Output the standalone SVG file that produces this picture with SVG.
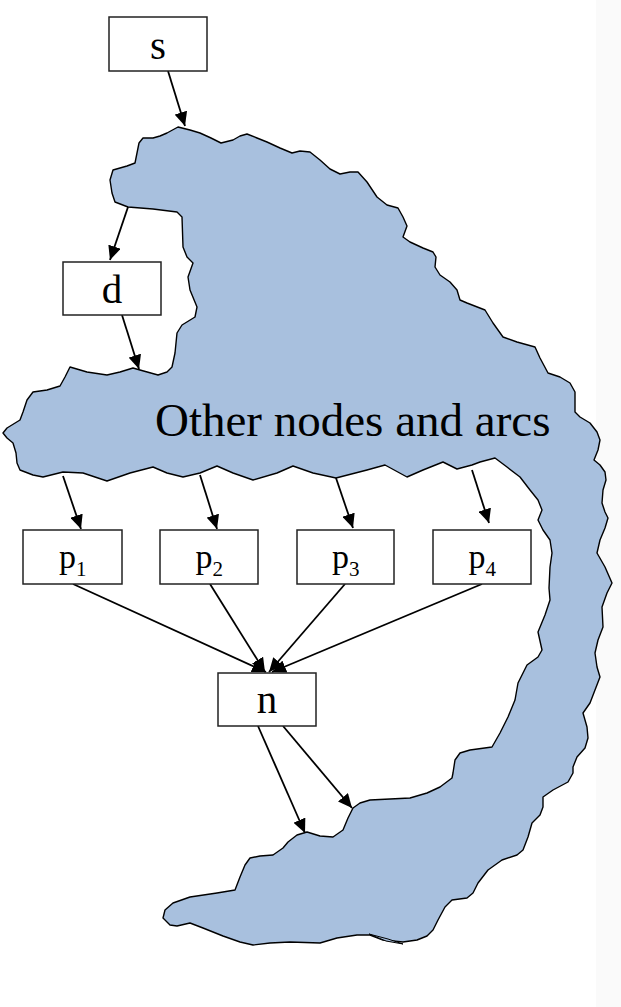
<svg xmlns="http://www.w3.org/2000/svg" width="621" height="1007" viewBox="0 0 621 1007">
<defs>
<marker id="ah" markerUnits="userSpaceOnUse" markerWidth="15" markerHeight="13" refX="14" refY="6.5" orient="auto">
<path d="M0,0 L14,6.5 L0,13 z" fill="#000"/>
</marker>
</defs>
<style>
.box{fill:#fff;stroke:#222;stroke-width:1.5}
.lbl{font-family:"Liberation Serif","Times New Roman",serif;fill:#000;text-anchor:middle}
.big{font-size:41px}
.pl{font-size:34px;text-anchor:start}
.sub{font-size:21px}
.arc{stroke:#000;stroke-width:1.8;fill:none;marker-end:url(#ah)}
.blob{fill:#a8c0de;stroke:#000;stroke-width:1.4;stroke-linejoin:round}
</style>
<rect x="0" y="0" width="621" height="1007" fill="#fff"/>
<rect x="596" y="0" width="25" height="1007" fill="#fafafa"/>
<g id="blob">
<path class="blob" d="M143,138 L153,138 L160,136 L167,133 L178,127 L190,130 L200,133 L211,138 L221,143 L233,140 L240,136 L247,134 L257,138 L267,142 L280,148 L292,153 L300,151 L310,152 L320,160 L330,169 L340,174 L350,172 L358,172 L367,182 L377,197 L387,205 L398,208 L403,217 L407,226 L403,237 L410,242 L423,248 L433,252 L436,257 L435,267 L440,275 L450,282 L457,290 L460,300 L467,303 L485,310 L493,323 L503,337 L517,342 L535,347 L540,358 L548,373 L560,377 L570,383 L575,392 L575,412 L580,417 L590,423 L597,432 L600,440 L598,450 L594,460 L600,465 L605,472 L606,480 L603,490 L602,503 L605,512 L608,518 L605,528 L600,540 L597,553 L605,567 L612,583 L607,593 L602,607 L603,627 L598,640 L595,653 L597,667 L600,677 L595,690 L590,703 L583,713 L587,727 L588,738 L585,748 L577,757 L573,767 L573,773 L568,782 L553,790 L543,797 L543,807 L540,815 L532,823 L528,837 L523,850 L517,855 L502,860 L488,870 L478,883 L473,893 L467,898 L452,900 L445,907 L438,920 L433,930 L427,936 L417,940 L403,942 L383,940 L370,935 L357,935 L337,938 L320,943 L290,942 L270,943 L253,945 L240,942 L223,936 L203,928 L190,923 L177,926 L170,925 L163,918 L165,910 L173,903 L190,897 L217,893 L235,890 L240,877 L245,865 L250,858 L260,856 L273,855 L283,848 L288,842 L297,835 L307,832 L320,836 L333,837 L343,830 L348,818 L353,808 L360,803 L370,800 L410,798 L427,793 L440,787 L452,778 L453,773 L455,760 L460,753 L470,750 L492,747 L500,733 L508,717 L515,700 L518,683 L527,665 L538,657 L542,650 L538,632 L545,615 L550,600 L549,588 L550,567 L552,553 L550,540 L543,530 L538,520 L542,510 L538,500 L530,490 L520,477 L507,467 L495,458 L480,462 L472,465 L457,469 L443,462 L423,470 L407,477 L385,465 L367,470 L336,478 L313,473 L293,466 L277,473 L253,480 L233,473 L217,466 L200,473 L183,477 L167,473 L153,467 L130,473 L107,481 L83,473 L63,472 L43,477 L33,475 L20,470 L17,463 L16,453 L13,443 L7,438 L3,433 L7,428 L20,420 L23,412 L27,400 L33,392 L47,390 L60,386 L65,377 L70,367 L87,372 L107,375 L120,372 L133,368 L140,370 L158,375 L167,372 L172,367 L175,353 L177,333 L182,325 L195,317 L197,307 L190,290 L188,277 L193,263 L187,257 L183,247 L182,217 L177,212 L153,209 L128,207 L115,202 L112,193 L110,180 L113,170 L127,166 L135,163 L139,143 Z"/>
<path class="blob" style="stroke-width:1" d="M369,934 L388,939 L403,944 L386,941 Z"/>
<text class="lbl" x="155" y="436" style="font-size:47px;text-anchor:start">Other nodes and arcs</text>
</g>
<g id="arcs">
<line class="arc" x1="168" y1="71" x2="185" y2="126"/>
<line class="arc" x1="128" y1="207" x2="110" y2="260"/>
<line class="arc" x1="122" y1="315" x2="139" y2="369"/>
<line class="arc" x1="63" y1="476" x2="81" y2="529"/>
<line class="arc" x1="200" y1="475" x2="217" y2="529"/>
<line class="arc" x1="336" y1="478" x2="353" y2="528"/>
<line class="arc" x1="472" y1="470" x2="489" y2="523"/>
<line class="arc" x1="73" y1="584" x2="266" y2="672"/>
<line class="arc" x1="210" y1="584" x2="265" y2="672"/>
<line class="arc" x1="345" y1="584" x2="269" y2="672"/>
<line class="arc" x1="482" y1="584" x2="272" y2="672"/>
<line class="arc" x1="258" y1="726" x2="305" y2="833"/>
<line class="arc" x1="283" y1="726" x2="352" y2="808"/>
</g>
<g id="node-s">
<rect class="box" x="109" y="17" width="98" height="54"/>
<text class="lbl big" x="158" y="59">s</text>
</g>
<g id="node-d">
<rect class="box" x="63" y="262" width="98" height="53"/>
<text class="lbl big" x="112" y="303">d</text>
</g>
<g id="node-p1">
<rect class="box" x="23" y="530" width="99" height="54"/>
<text class="lbl pl" x="59" y="568">p<tspan class="sub" dy="8">1</tspan></text>
</g>
<g id="node-p2">
<rect class="box" x="160" y="530" width="98" height="54"/>
<text class="lbl pl" x="195.5" y="568">p<tspan class="sub" dy="8">2</tspan></text>
</g>
<g id="node-p3">
<rect class="box" x="297" y="530" width="97" height="54"/>
<text class="lbl pl" x="332" y="568">p<tspan class="sub" dy="8">3</tspan></text>
</g>
<g id="node-p4">
<rect class="box" x="433" y="530" width="98" height="54"/>
<text class="lbl pl" x="468.5" y="568">p<tspan class="sub" dy="8">4</tspan></text>
</g>
<g id="node-n">
<rect class="box" x="218" y="673" width="98" height="53"/>
<text class="lbl big" x="267" y="713">n</text>
</g>
</svg>
